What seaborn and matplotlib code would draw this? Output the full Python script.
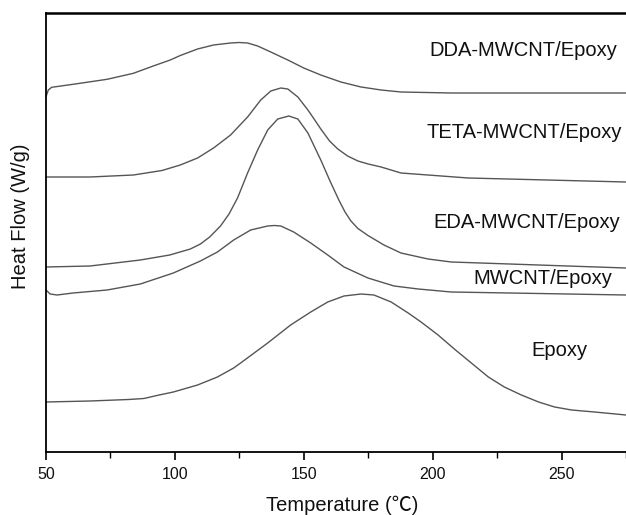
import matplotlib
matplotlib.use("Agg")
import matplotlib.pyplot as plt
import seaborn as sns
import pandas as pd
from matplotlib.ticker import MultipleLocator

sns.set_theme(style="white")
plt.rcParams['font.family'] = ['Liberation Sans', 'Noto Sans CJK SC', 'DejaVu Sans']

# Temperature (°C) and heat flow (arbitrary units)
dda_T = [50, 50.9, 52.2, 60.5, 73.7, 83.9, 91.6, 98.2, 102.1, 108.8, 115.0, 121.6, 125.0, 128.2, 132.1,
         137.2, 143.8, 150.0, 156.6, 164.4, 172.2, 180.0, 187.7, 207.2, 226.7, 275]
dda_H = [3.553, 3.62, 3.647, 3.677, 3.727, 3.787, 3.86, 3.92, 3.965, 4.03, 4.07, 4.09, 4.095, 4.09, 4.06,
         4.00, 3.92, 3.84, 3.77, 3.70, 3.65, 3.62, 3.60, 3.59, 3.59, 3.59]

teta_T = [50, 67.1, 83.9, 95.0, 102.1, 108.8, 115.0, 121.6, 128.2, 133.3, 137.2, 141.1, 143.8,
          147.7, 151.6, 154.0, 156.6, 160.0, 163.2, 167.0, 171.0, 175.0, 180.0, 187.7, 213.8, 275]
teta_H = [2.75, 2.75, 2.77, 2.815, 2.87, 2.94, 3.04, 3.17, 3.35, 3.52, 3.61, 3.64, 3.63,
          3.55, 3.42, 3.33, 3.23, 3.11, 3.03, 2.96, 2.91, 2.88, 2.85, 2.79, 2.74, 2.70]

eda_T = [50, 67.1, 86.6, 98.0, 106.0, 109.9, 113.5, 117.7, 121.0, 124.3, 128.2, 132.1, 136.0, 139.9, 144.2,
         147.7, 151.6, 156.6, 160.0, 163.6, 166.0, 168.3, 171.0, 174.9, 181.1, 187.7, 198.2, 207.2, 275]
eda_H = [1.85, 1.86, 1.92, 1.97, 2.03, 2.08, 2.15, 2.26, 2.38, 2.54, 2.79, 3.02, 3.22, 3.33, 3.36,
         3.33, 3.19, 2.92, 2.72, 2.52, 2.40, 2.31, 2.235, 2.165, 2.07, 1.99, 1.93, 1.90, 1.84]

mw_T = [50, 51.6, 54.3, 60.5, 73.7, 86.6, 99.4, 109.9, 116.5, 122.8, 129.4, 136.0, 138.6, 141.1,
        146.1, 152.7, 159.3, 165.6, 174.9, 185.0, 194.4, 207.2, 275]
mw_H = [1.62, 1.58, 1.57, 1.59, 1.62, 1.68, 1.79, 1.91, 2.00, 2.12, 2.22, 2.26, 2.265, 2.26,
        2.20, 2.09, 1.97, 1.85, 1.74, 1.66, 1.63, 1.60, 1.57]

ep_T = [50, 67.1, 82.0, 88.0, 93.0, 99.4, 108.8, 116.5, 122.8, 125.5, 136.0, 144.9, 152.7, 159.3,
        165.6, 172.2, 177.2, 183.9, 190.5, 195.5, 202.1, 208.4, 215.0, 221.6, 227.8, 234.4,
        241.1, 247.3, 253.9, 262.8, 275]
ep_H = [0.50, 0.51, 0.525, 0.535, 0.565, 0.60, 0.67, 0.75, 0.84, 0.89, 1.09, 1.27, 1.40, 1.50,
        1.56, 1.58, 1.57, 1.50, 1.39, 1.30, 1.17, 1.03, 0.89, 0.75, 0.65, 0.57,
        0.50, 0.45, 0.42, 0.40, 0.37]

series = [
    ("DDA-MWCNT/Epoxy", dda_T, dda_H),
    ("TETA-MWCNT/Epoxy", teta_T, teta_H),
    ("EDA-MWCNT/Epoxy", eda_T, eda_H),
    ("MWCNT/Epoxy", mw_T, mw_H),
    ("Epoxy", ep_T, ep_H),
]
frames = []
for name, T, H in series:
    frames.append(pd.DataFrame({"T": T, "H": H, "sample": name}))
df = pd.concat(frames, ignore_index=True)

fig = plt.figure(figsize=(6.26, 5.15), dpi=100)
ax = fig.add_axes([46/626, (515-452)/515, (626-46)/626, (452-13)/515])

sns.lineplot(data=df, x="T", y="H", units="sample", estimator=None,
             color="#555555", linewidth=1.0, ax=ax, sort=False, legend=False)
for ln in ax.get_lines():
    ln.set_solid_joinstyle('round')
    ln.set_clip_on(False)

ax.set_xlim(50, 275)
ax.set_ylim(0, 4.39)
ax.xaxis.set_major_locator(MultipleLocator(50))
ax.xaxis.set_minor_locator(MultipleLocator(25))
ax.set_yticks([])
ax.tick_params(axis='x', which='major', direction='out', length=6, width=1.2,
               labelsize=11.5, color='black', labelcolor='#111111', bottom=True, pad=5)
ax.tick_params(axis='x', which='minor', direction='out', length=4, width=1.0,
               color='black', bottom=True)

for side in ['left', 'bottom', 'top']:
    ax.spines[side].set_color('black')
    ax.spines[side].set_linewidth(1.3)
ax.spines['top'].set_linewidth(1.8)
ax.spines['right'].set_visible(False)

ax.set_xlabel("Temperature (℃)", fontsize=14.5, color='#111111')
ax.set_ylabel("Heat Flow (W/g)", fontsize=14.5, color='#111111')
ax.xaxis.set_label_coords(0.51, -0.10)
ax.yaxis.set_label_coords(-0.028, 0.538)

label_pos = {
    "DDA-MWCNT/Epoxy": (235.2, 4.02),
    "TETA-MWCNT/Epoxy": (235.6, 3.19),
    "EDA-MWCNT/Epoxy": (236.4, 2.30),
    "MWCNT/Epoxy": (242.6, 1.74),
    "Epoxy": (249.2, 1.02),
}
for name, _, _ in series:
    x, y = label_pos[name]
    ax.text(x, y, name, ha='center', va='center', fontsize=14.5, color='#111111')

fig.savefig("out.png", dpi=100)
